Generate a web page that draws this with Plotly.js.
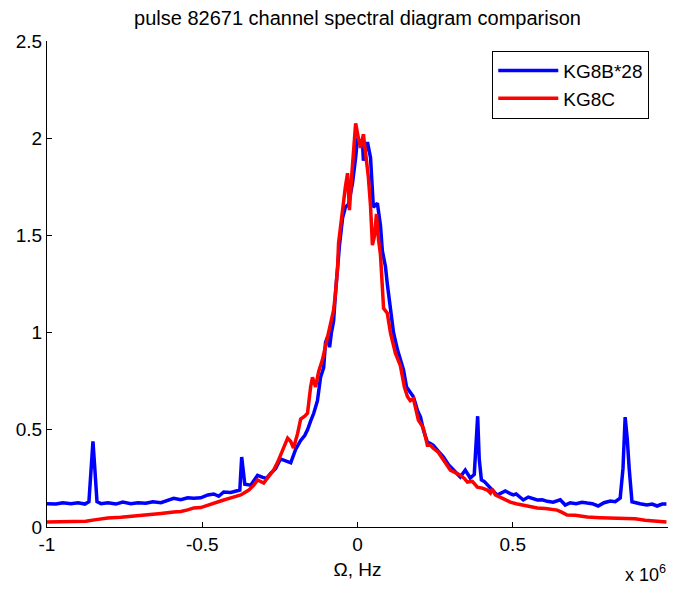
<!DOCTYPE html>
<html>
<head>
<meta charset="utf-8">
<script src="https://cdn.plot.ly/plotly-3.0.1.min.js"></script>
<style>html,body{margin:0;padding:0;background:#fff;}#chart{width:673px;height:592px;}</style>
</head>
<body>
<div id="chart"></div>
<script>
// Frequency in units of 1e6 Hz
const blueX = [-1.0,-0.971,-0.949,-0.923,-0.900,-0.878,-0.865,-0.859,-0.852,-0.846,-0.839,-0.826,-0.804,-0.778,-0.756,-0.730,-0.707,-0.682,-0.659,-0.633,-0.611,-0.592,-0.569,-0.547,-0.527,-0.505,-0.482,-0.463,-0.447,-0.431,-0.408,-0.389,-0.379,-0.373,-0.367,-0.363,-0.344,-0.322,-0.305,-0.293,-0.280,-0.264,-0.248,-0.232,-0.215,-0.199,-0.183,-0.170,-0.161,-0.151,-0.141,-0.129,-0.119,-0.109,-0.103,-0.096,-0.090,-0.084,-0.077,-0.071,-0.064,-0.058,-0.048,-0.039,-0.029,-0.016,-0.006,0.0,0.010,0.016,0.019,0.026,0.032,0.042,0.048,0.051,0.064,0.074,0.080,0.090,0.096,0.106,0.116,0.129,0.138,0.148,0.158,0.170,0.180,0.193,0.203,0.212,0.225,0.235,0.244,0.260,0.277,0.293,0.309,0.322,0.331,0.347,0.363,0.376,0.383,0.387,0.392,0.399,0.408,0.418,0.428,0.434,0.450,0.463,0.476,0.492,0.502,0.511,0.521,0.534,0.550,0.566,0.579,0.595,0.611,0.630,0.646,0.653,0.669,0.685,0.704,0.723,0.740,0.756,0.775,0.794,0.814,0.830,0.846,0.855,0.862,0.869,0.875,0.884,0.910,0.932,0.949,0.965,0.981,0.995];
const blueY = [0.12,0.118,0.125,0.12,0.125,0.118,0.13,0.30,0.44,0.30,0.13,0.12,0.125,0.118,0.128,0.12,0.125,0.122,0.13,0.125,0.135,0.148,0.14,0.15,0.148,0.15,0.165,0.17,0.158,0.18,0.178,0.185,0.19,0.36,0.25,0.22,0.215,0.265,0.255,0.25,0.275,0.30,0.35,0.34,0.33,0.40,0.445,0.47,0.50,0.545,0.585,0.65,0.77,0.82,0.95,0.98,0.925,1.0,1.06,1.2,1.34,1.45,1.59,1.645,1.66,1.77,1.9,2.0,1.97,1.99,1.885,1.95,1.98,1.90,1.75,1.645,1.665,1.55,1.42,1.34,1.25,1.12,1.0,0.91,0.86,0.81,0.72,0.69,0.67,0.60,0.565,0.50,0.437,0.43,0.42,0.39,0.36,0.32,0.293,0.27,0.257,0.293,0.252,0.27,0.50,0.57,0.35,0.242,0.235,0.216,0.2,0.19,0.164,0.175,0.185,0.172,0.165,0.17,0.155,0.139,0.154,0.145,0.139,0.14,0.132,0.128,0.135,0.14,0.113,0.125,0.12,0.127,0.123,0.12,0.108,0.125,0.134,0.13,0.149,0.30,0.565,0.45,0.30,0.13,0.12,0.113,0.118,0.108,0.118,0.118];

const redX = [-1.0,-0.955,-0.913,-0.875,-0.842,-0.804,-0.762,-0.730,-0.698,-0.666,-0.633,-0.592,-0.569,-0.547,-0.527,-0.505,-0.482,-0.457,-0.431,-0.408,-0.376,-0.350,-0.334,-0.322,-0.302,-0.286,-0.270,-0.257,-0.248,-0.235,-0.225,-0.215,-0.206,-0.193,-0.183,-0.170,-0.161,-0.151,-0.145,-0.135,-0.125,-0.113,-0.103,-0.096,-0.087,-0.077,-0.071,-0.064,-0.061,-0.055,-0.045,-0.039,-0.032,-0.026,-0.019,-0.013,-0.006,0.003,0.010,0.019,0.026,0.035,0.042,0.048,0.055,0.061,0.068,0.074,0.084,0.096,0.106,0.116,0.122,0.138,0.151,0.161,0.170,0.180,0.190,0.196,0.212,0.225,0.235,0.244,0.260,0.277,0.289,0.299,0.315,0.331,0.344,0.354,0.370,0.386,0.402,0.418,0.428,0.434,0.444,0.460,0.476,0.492,0.511,0.534,0.556,0.579,0.605,0.627,0.643,0.659,0.675,0.701,0.740,0.781,0.823,0.862,0.894,0.926,0.952,0.974,0.995];
const redY = [0.026,0.026,0.027,0.03,0.038,0.046,0.05,0.056,0.062,0.065,0.07,0.077,0.08,0.088,0.098,0.10,0.113,0.125,0.139,0.15,0.165,0.19,0.215,0.242,0.226,0.26,0.293,0.334,0.37,0.42,0.457,0.44,0.406,0.48,0.555,0.57,0.585,0.72,0.77,0.72,0.80,0.86,0.93,0.98,1.05,1.115,1.2,1.34,1.46,1.55,1.68,1.75,1.82,1.63,1.80,1.95,2.076,2.0,1.95,2.02,1.93,1.80,1.65,1.45,1.50,1.61,1.475,1.40,1.125,1.10,1.0,0.93,0.894,0.83,0.72,0.67,0.65,0.66,0.60,0.55,0.51,0.42,0.42,0.405,0.385,0.344,0.32,0.293,0.28,0.267,0.25,0.231,0.235,0.205,0.20,0.19,0.175,0.195,0.165,0.154,0.14,0.128,0.12,0.113,0.108,0.098,0.095,0.09,0.087,0.075,0.062,0.06,0.051,0.048,0.046,0.045,0.042,0.035,0.031,0.028,0.026];

const seriesNames = ['KG8B*28', 'KG8C'];
const xTicks = [-1, -0.5, 0, 0.5, 1];
const xTickText = ['-1', '-0.5', '0', '0.5', '1'];
const yTicks = [0, 0.5, 1, 1.5, 2, 2.5];
const yTickText = ['0', '0.5', '1', '1.5', '2', '2.5'];

const FONT = 'Liberation Sans, Arial, Helvetica, sans-serif';

const traces = [
  {x: blueX, y: blueY, name: seriesNames[0], type: 'scatter', mode: 'lines',
   line: {color: '#0000ff', width: 3.5}},
  {x: redX, y: redY, name: seriesNames[1], type: 'scatter', mode: 'lines',
   line: {color: '#ff0000', width: 3.5}}
];

const layout = {
  width: 673, height: 592,
  margin: {l: 47, r: 5, t: 41, b: 65},
  paper_bgcolor: '#fff', plot_bgcolor: '#fff',
  font: {family: FONT, size: 19, color: '#000'},
  title: {text: 'pulse 82671 channel spectral diagram comparison',
          font: {family: FONT, size: 20, color: '#000'},
          x: 0.5, xanchor: 'center', y: 0.97, yanchor: 'middle', xref: 'paper'},
  xaxis: {range: [-1, 1], tickvals: xTicks, ticktext: xTickText,
          showgrid: false, zeroline: false, showline: true, linecolor: '#000', linewidth: 1,
          ticks: 'inside', ticklen: 5, tickcolor: '#000',
          title: {text: 'Ω, Hz', font: {family: FONT, size: 19}, standoff: 8}},
  yaxis: {range: [0, 2.5], tickvals: yTicks, ticktext: yTickText,
          showgrid: false, zeroline: false, showline: true, linecolor: '#000', linewidth: 1,
          ticks: 'inside', ticklen: 5, tickcolor: '#000'},
  legend: {x: 0.717, y: 0.98, xanchor: 'left', yanchor: 'top',
           bgcolor: '#fff', bordercolor: '#000', borderwidth: 1,
           font: {family: FONT, size: 19}, itemwidth: 60, tracegroupgap: 0},
  showlegend: true,
  annotations: [{text: 'x 10<sup>6</sup>', xref: 'paper', yref: 'paper', x: 1, y: -0.068,
                 xanchor: 'right', yanchor: 'top', showarrow: false,
                 font: {family: FONT, size: 18}}]
};

Plotly.newPlot('chart', traces, layout, {displayModeBar: false, staticPlot: true});
</script>
</body>
</html>
